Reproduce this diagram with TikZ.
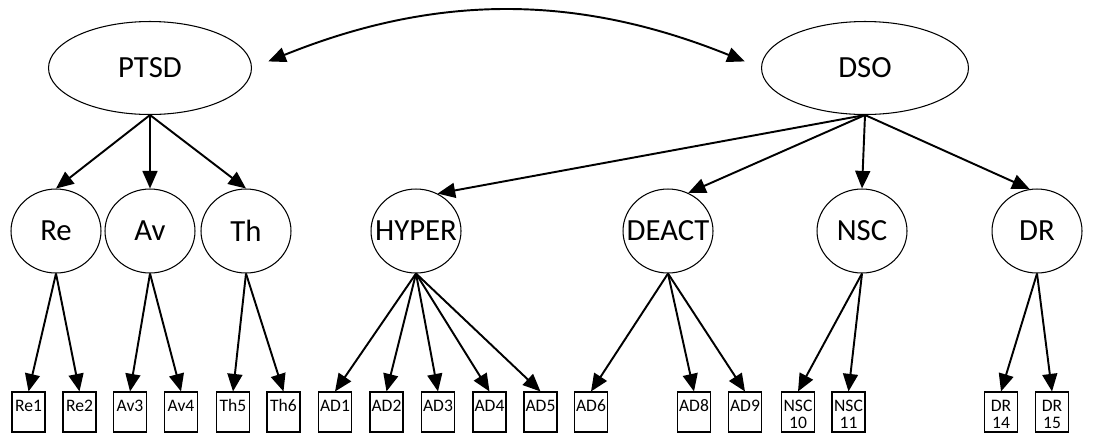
\documentclass[tikz,border=0pt]{standalone}
\usepackage{fontspec}
\setmainfont{Carlito}
\usetikzlibrary{shapes.geometric}
\usetikzlibrary{arrows.meta}

\begin{document}
\begin{tikzpicture}[x=0.02cm,y=-0.02cm,>={Triangle[length=10pt,width=8.5pt]}]
\tikzstyle{every node}=[font=\fontsize{17.5}{20}\selectfont]
\tikzstyle{factor}=[ellipse,draw,line width=0.6pt,inner sep=-6pt,minimum width=1.8cm,minimum height=1.68cm]
\tikzstyle{latent}=[factor,minimum width=4.06cm,minimum height=1.86cm]
\tikzstyle{item}=[draw,line width=0.6pt,minimum width=0.66cm,minimum height=0.8cm,inner sep=0pt]
\tikzstyle{itemtext}=[anchor=north,inner sep=0pt,yshift=-4.5pt,align=center,font=\fontsize{10}{9.8}\selectfont]
\tikzstyle{load}=[->,line width=1.1pt]
\useasboundingbox (0,0) rectangle (1104,444);
\node [latent] (ptsd) at (150,68) {PTSD};
\node [latent,minimum width=4.14cm] (dso) at (865,68) {DSO};
\node [factor] (re) at (56,231) {Re};
\node [factor] (av) at (150,231) {Av};
\node [factor] (th) at (246,231) {Th};
\node [factor] (hyper) at (416,231) {HYPER};
\node [factor] (deact) at (668,231) {DEACT};
\node [factor] (nsc) at (862,231) {NSC};
\node [factor] (dr) at (1037,231) {DR};
\node [item,label={[itemtext]north:Re1}] (re1) at (28.5,412) {};
\node [item,label={[itemtext]north:Re2}] (re2) at (79.5,412) {};
\node [item,label={[itemtext]north:Av3}] (av3) at (130,412) {};
\node [item,label={[itemtext]north:Av4}] (av4) at (181,412) {};
\node [item,label={[itemtext]north:Th5}] (th5) at (233,412) {};
\node [item,label={[itemtext]north:Th6}] (th6) at (283.5,412) {};
\node [item,label={[itemtext]north:AD1}] (ad1) at (335,412) {};
\node [item,label={[itemtext]north:AD2}] (ad2) at (386.5,412) {};
\node [item,label={[itemtext]north:AD3}] (ad3) at (438,412) {};
\node [item,label={[itemtext]north:AD4}] (ad4) at (489.5,412) {};
\node [item,label={[itemtext]north:AD5}] (ad5) at (540.5,412) {};
\node [item,label={[itemtext]north:AD6}] (ad6) at (591,412) {};
\node [item,label={[itemtext]north:AD8}] (ad8) at (694,412) {};
\node [item,label={[itemtext]north:AD9}] (ad9) at (745,412) {};
\node [item,label={[itemtext]north:{NSC\\10}}] (nsc10) at (798,412) {};
\node [item,label={[itemtext]north:{NSC\\11}}] (nsc11) at (848.5,412) {};
\node [item,label={[itemtext]north:{DR\\14}}] (dr14) at (1001,412) {};
\node [item,label={[itemtext]north:{DR\\15}}] (dr15) at (1052,412) {};
\draw [<->,line width=1.1pt,shorten <=10pt,shorten >=10pt] (ptsd.east) to [bend left=22] (dso.west);
\draw [load] (ptsd.south) -- (re.north);
\draw [load] (ptsd.south) -- (av.north);
\draw [load] (ptsd.south) -- (th.north);
\draw [load] (dso.south) -- (hyper.60);
\draw [load] (dso.south) -- (deact.62);
\draw [load] (dso.south) -- (nsc.north);
\draw [load] (dso.south) -- (dr.100);
\draw [load] (re.south) -- (re1.north);
\draw [load] (re.south) -- (re2.north);
\draw [load] (av.south) -- (av3.north);
\draw [load] (av.south) -- (av4.north);
\draw [load] (th.south) -- (th5.north);
\draw [load] (th.south) -- (th6.north);
\draw [load] (hyper.south) -- (ad1.north);
\draw [load] (hyper.south) -- (ad2.north);
\draw [load] (hyper.south) -- (ad3.north);
\draw [load] (hyper.south) -- (ad4.north);
\draw [load] (hyper.south) -- (ad5.north);
\draw [load] (deact.south) -- (ad6.north);
\draw [load] (deact.south) -- (ad8.north);
\draw [load] (deact.south) -- (ad9.north);
\draw [load] (nsc.south) -- (nsc10.north);
\draw [load] (nsc.south) -- (nsc11.north);
\draw [load] (dr.south) -- (dr14.north);
\draw [load] (dr.south) -- (dr15.north);
\end{tikzpicture}
\end{document}
